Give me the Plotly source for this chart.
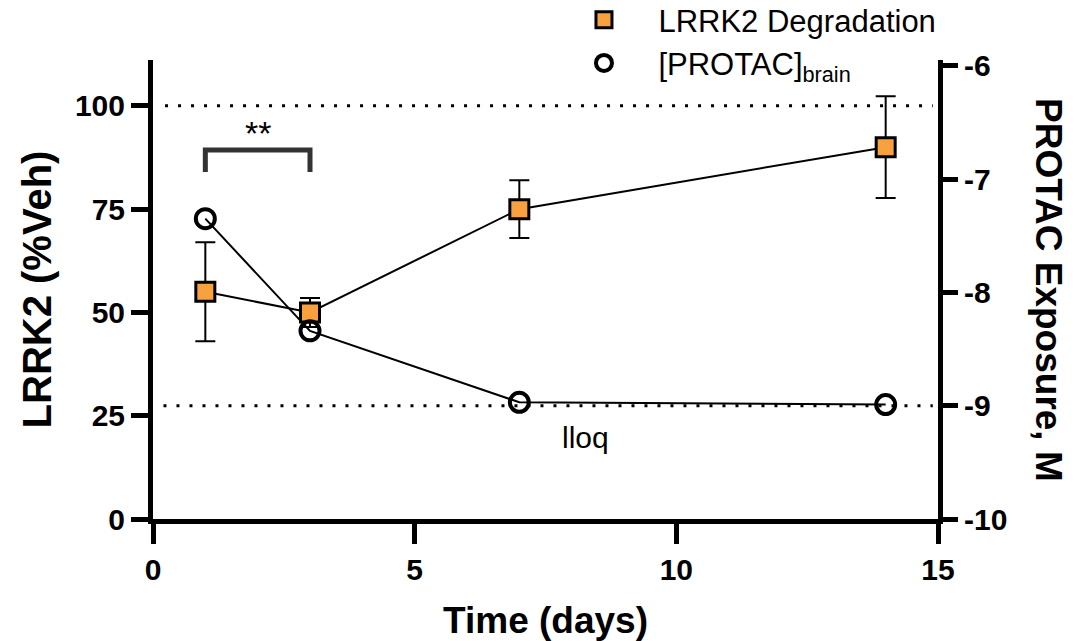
import plotly.graph_objects as go

# ---- data ----
days = [1, 3, 7, 14]
lrrk2_pct = [55, 50, 75, 90]
lrrk2_err = [12, 3.5, 7, 12.3]
protac_log_m = [-7.35, -8.34, -8.97, -8.99]

x_ticks = [0, 5, 10, 15]
left_ticks = [0, 25, 50, 75, 100]
right_ticks = [-10, -9, -8, -7, -6]
right_tick_text = ["-10", "-9", "-8", "-7", "-6"]

veh_level = 100      # left axis reference line
lloq_level = -9      # right axis reference line
sig_pair = [1, 3]    # bracket between these days
sig_text = "**"

FONT = "Liberation Sans, Arial, sans-serif"
ORANGE = "#F9A03F"
NB = "\u00a0" * 4

sq_marker = dict(symbol="square", size=19, color=ORANGE, line=dict(width=3, color="black"))
ci_marker = dict(symbol="circle-open", size=19, color="black", line=dict(width=4, color="black"))

fig = go.Figure()

# PROTAC exposure (right axis)
fig.add_trace(go.Scatter(
    x=days, y=protac_log_m, yaxis="y2", mode="lines+markers",
    line=dict(color="black", width=2), marker=ci_marker, showlegend=False,
))

# LRRK2 degradation (left axis)
fig.add_trace(go.Scatter(
    x=days, y=lrrk2_pct, mode="lines+markers",
    line=dict(color="black", width=2), marker=sq_marker, showlegend=False,
    error_y=dict(type="data", array=lrrk2_err, visible=True, color="black", thickness=2, width=10),
))

# legend entries (markers only, as in the reference)
fig.add_trace(go.Scatter(x=[None], y=[None], mode="markers", name=NB + "LRRK2 Degradation",
                         marker=sq_marker, legendrank=1))
fig.add_trace(go.Scatter(x=[None], y=[None], mode="markers", name=NB + "[PROTAC]<sub>brain</sub>",
                         marker=ci_marker, legendrank=2))

# dotted reference lines
fig.add_shape(type="line", xref="x", yref="y", x0=0.23, x1=14.9, y0=veh_level, y1=veh_level,
              line=dict(color="black", width=3, dash="3px,10px"), layer="below")
fig.add_shape(type="line", xref="x", yref="y2", x0=0.2, x1=14.9, y0=lloq_level, y1=lloq_level,
              line=dict(color="black", width=3, dash="3px,10px"), layer="below")

# significance bracket
fig.add_shape(type="path", xref="x", yref="y",
              path=f"M {sig_pair[0]},84 L {sig_pair[0]},89.3 L {sig_pair[1]},89.3 L {sig_pair[1]},84",
              line=dict(color="#333333", width=5))
fig.add_annotation(x=(sig_pair[0] + sig_pair[1]) / 2, y=93.5, xref="x", yref="y", text=sig_text,
                   showarrow=False, font=dict(family=FONT, size=34, color="black"))
fig.add_annotation(x=8.26, y=lloq_level, xref="x", yref="y2", text="lloq", yshift=-32,
                   showarrow=False, font=dict(family=FONT, size=30, color="black"))

# right axis title, reading top to bottom
fig.add_annotation(x=1.0, xref="paper", xshift=133, y=0.5, yref="paper", yshift=0,
                   text="PROTAC Exposure, M", textangle=90, showarrow=False,
                   font=dict(family=FONT, size=37, color="black", weight="bold"))

tickfont = dict(family=FONT, size=30, color="black", weight="bold")

fig.update_layout(
    width=1089, height=641,
    margin=dict(l=153, r=151, t=60, b=122, autoexpand=False),
    paper_bgcolor="white", plot_bgcolor="white",
    showlegend=True,
    legend=dict(x=0.549, y=1.146, xanchor="left", yanchor="top", bgcolor="rgba(0,0,0,0)",
                font=dict(family=FONT, size=31, color="black"), tracegroupgap=0,
                itemsizing="trace"),
    xaxis=dict(range=[0, 15], tickvals=x_ticks, showline=True, linewidth=5, linecolor="black",
               ticks="outside", ticklen=20, tickwidth=5, tickcolor="black", showgrid=False,
               zeroline=False, tickfont=tickfont,
               title=dict(text="Time (days)", standoff=28,
                          font=dict(family=FONT, size=37, color="black", weight="bold"))),
    yaxis=dict(range=[0, 111.1], tickvals=left_ticks, showline=True, linewidth=5, linecolor="black",
               ticks="outside", ticklen=17, tickwidth=5, tickcolor="black", showgrid=False,
               zeroline=False, tickfont=tickfont,
               title=dict(text="LRRK2 (%Veh)", standoff=12,
                          font=dict(family=FONT, size=40, color="black", weight="bold"))),
    yaxis2=dict(range=[-10, -5.95], overlaying="y", side="right", tickvals=right_ticks,
                ticktext=right_tick_text, showline=True, linewidth=5, linecolor="black",
                ticks="outside", ticklen=15, tickwidth=5, tickcolor="black", showgrid=False,
                zeroline=False, tickfont=tickfont),
)

fig.write_html("out.html")
